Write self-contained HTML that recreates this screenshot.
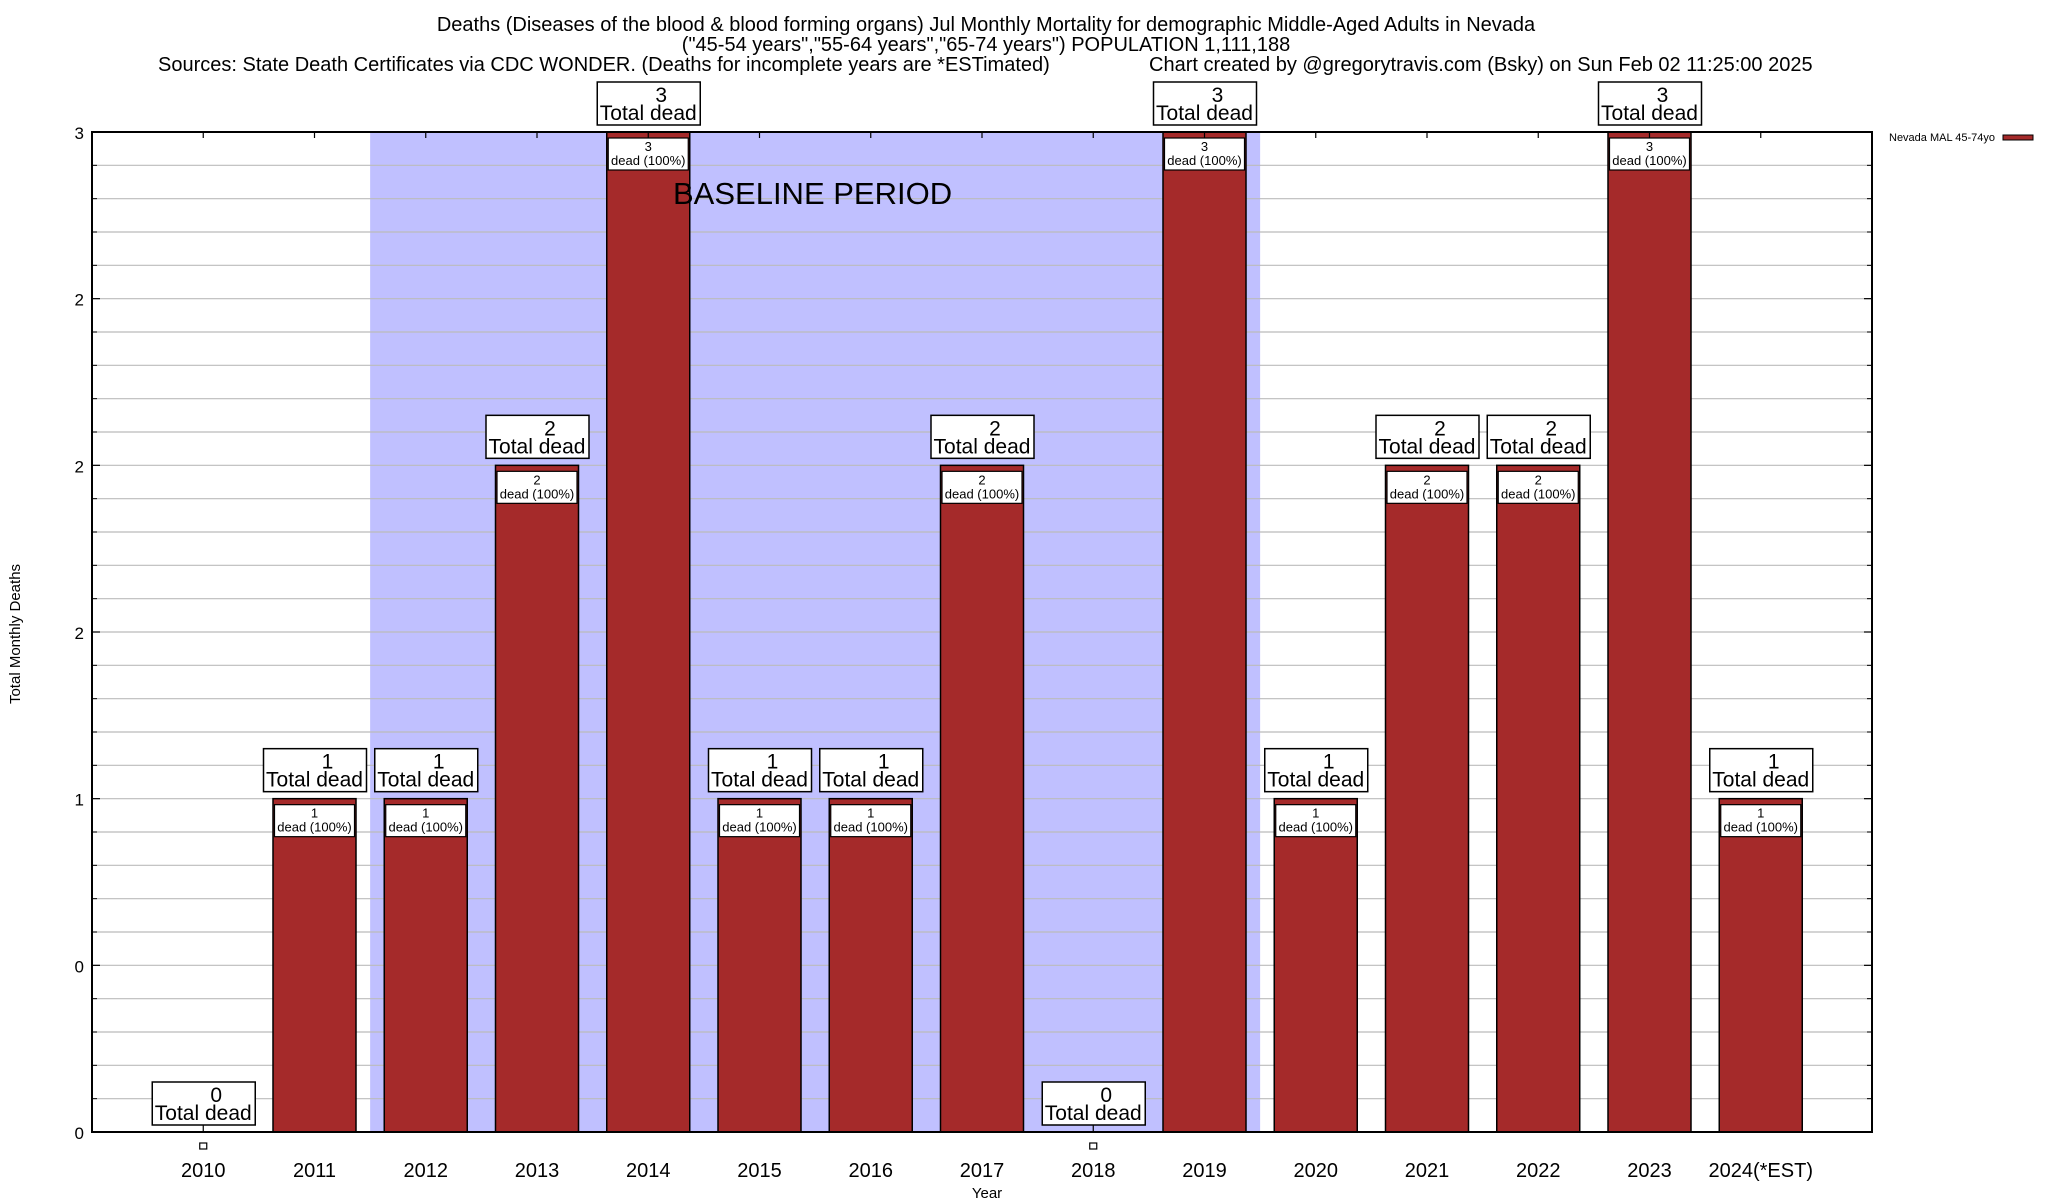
<!DOCTYPE html>
<html><head><meta charset="utf-8">
<style>
html,body{margin:0;padding:0;background:#fff;}
svg{display:block;font-family:"Liberation Sans",Arial,sans-serif;}
</style></head>
<body>
<svg id="chart" width="2048" height="1200" viewBox="0 0 2048 1200">
  <g font-size="20" text-anchor="middle" fill="#000">
    <text x="986" y="31">Deaths (Diseases of the blood &amp; blood forming organs) Jul Monthly Mortality for demographic Middle-Aged Adults in Nevada</text>
    <text x="986" y="51">("45-54 years","55-64 years","65-74 years") POPULATION 1,111,188</text>
    <text x="158" y="71" text-anchor="start">Sources: State Death Certificates via CDC WONDER. (Deaths for incomplete years are *ESTimated)</text>
    <text x="1149" y="71" text-anchor="start">Chart created by @gregorytravis.com (Bsky) on Sun Feb 02 11:25:00 2025</text>
  </g>
  <g id="plot"></g>
</svg>
<script>
const categories = ["2010","2011","2012","2013","2014","2015","2016","2017","2018","2019","2020","2021","2022","2023","2024(*EST)"];
const deaths = [0,1,1,2,3,1,1,2,0,3,1,2,2,3,1];
const yTickValues = [0,0.5,1,1.5,2,2.5,3];
const yTickLabels = ["0","0","1","2","2","2","3"];
const baselineStart = 1.5, baselineEnd = 9.5;

const NS = "http://www.w3.org/2000/svg";
const L = 92, R = 1872, T = 132, B = 1132;
const xMin = -1, xMax = 15, yMin = 0, yMax = 3;
const xs = v => L + (v - xMin) / (xMax - xMin) * (R - L);
const ys = v => B - (v - yMin) / (yMax - yMin) * (B - T);
const plot = document.getElementById('plot');
function mk(tag, attrs, parent) {
  const e = document.createElementNS(NS, tag);
  for (const k in attrs) e.setAttribute(k, attrs[k]);
  (parent || plot).appendChild(e);
  return e;
}
function txt(x, y, s, size, anchor, parent) {
  const t = mk('text', {x: x, y: y, 'font-size': size, 'text-anchor': anchor || 'middle'}, parent);
  t.textContent = s;
  return t;
}

const shade = mk('rect', {x: xs(baselineStart), y: T, width: xs(baselineEnd) - xs(baselineStart), height: B - T, fill: '#c0c0ff'});



for (let i = 1; i < 30; i++) {
  const y = ys(i * 0.1);
  const g = mk('line', {x1: L, x2: R, y1: y, y2: y, stroke: '#bbbbbb', 'stroke-width': 1.2});
  
  
}

categories.forEach((c, i) => {
  const v = deaths[i];
  const cx = xs(i), w = 83;
  if (v > 0) {
    const bar = mk('rect', {x: cx - w / 2, y: ys(v), width: w, height: ys(0) - ys(v), fill: '#a52a2a', stroke: '#000', 'stroke-width': 1.5});
    
    
    const ib = mk('rect', {x: cx - 40, y: ys(v) + 6, width: 80, height: 32, fill: '#fff', stroke: '#000', 'stroke-width': 1.2});
    
    
    const t1 = txt(cx, ys(v) + 19, String(v), 13);
    
    
    const t2 = txt(cx, ys(v) + 33, 'dead (100%)', 13);
    
    
  } else {
    const m = mk('rect', {x: cx - 3.5, y: 1143, width: 7, height: 6, fill: '#fff', stroke: '#000', 'stroke-width': 1.2});
    
    
    mk('line', {x1: cx, x2: cx, y1: B - 7, y2: B, stroke: '#000', 'stroke-width': 1.2});
  }
  const by = ys(v) - 50;
  const box = mk('rect', {x: cx - 51, y: by, width: 103, height: 43, fill: '#fff', stroke: '#000', 'stroke-width': 1.5});
  
  
  const n = txt(cx + 13, by + 20, String(v), 21);
  
  
  const td = txt(cx, by + 38, 'Total dead', 21);
  
  
  const xl = txt(cx, 1177, c, 20);
  
  
  mk('line', {x1: cx, x2: cx, y1: T, y2: T + 6, stroke: '#000', 'stroke-width': 1.2});
});

const bl = txt(673, 204, 'BASELINE PERIOD', 31, 'start');



yTickValues.forEach((v, i) => {
  const y = ys(v);
  const l = txt(84, y + 7, yTickLabels[i], 17, 'end');
  
  
  mk('line', {x1: L, x2: L + 8, y1: y, y2: y, stroke: '#000', 'stroke-width': 1.2});
  mk('line', {x1: R - 8, x2: R, y1: y, y2: y, stroke: '#000', 'stroke-width': 1.2});
});
for (let i = 1; i < 30; i++) {
  if (i % 5 === 0) continue;
  const y = ys(i * 0.1);
  mk('line', {x1: L, x2: L + 5, y1: y, y2: y, stroke: '#000', 'stroke-width': 1});
  mk('line', {x1: R - 5, x2: R, y1: y, y2: y, stroke: '#000', 'stroke-width': 1});
}

const frame = mk('rect', {x: L, y: T, width: R - L, height: B - T, fill: 'none', stroke: '#000', 'stroke-width': 2});



const yt = txt(0, 0, 'Total Monthly Deaths', 15);
yt.setAttribute('transform', 'translate(20,634) rotate(-90)');


const xt = txt(987, 1198, 'Year', 15);



const lg = mk('g', {});


txt(1995, 141, 'Nevada MAL 45-74yo', 11, 'end', lg);
mk('rect', {x: 2003, y: 135, width: 30, height: 5, fill: '#a52a2a', stroke: '#000', 'stroke-width': 1}, lg);
</script>
</body></html>
